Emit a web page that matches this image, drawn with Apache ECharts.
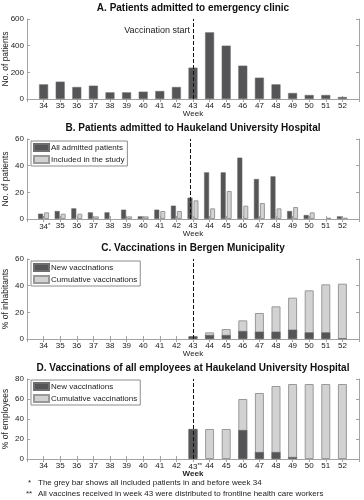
<!DOCTYPE html>
<html>
<head>
<meta charset="utf-8">
<script src="https://cdn.jsdelivr.net/npm/echarts@6/dist/echarts.min.js"></script>
<style>
html, body { margin: 0; padding: 0; background: #fff; }
#chart { width: 364px; height: 500px; }
</style>
</head>
<body>
<div id="chart"></div>
<script>
// weeks 34 - 52
var weeks = [34,35,36,37,38,39,40,41,42,43,44,45,46,47,48,49,50,51,52];

// A. emergency clinic
var emergency = [110,130,90,100,50,50,55,60,90,235,500,400,250,160,110,45,30,30,15];
// B. Haukeland University Hospital
var hospitalAll = [4,6,8,5,5,7,2,7,10,16,35,35,46,30,32,6,3,0,2];
var hospitalIncluded = [5,4,4,2,0,2,2,6,6,14,8,21,10,12,8,9,5,1,1];
// C. Bergen municipality (% of inhabitants)
var bergenNew = [0,0,0,0,0,0,0,0,0,2,3,3,6,5.5,5.5,7,5,5,0.5];
var bergenCum = [0,0,0,0,0,0,0,0,0,2,5,7.5,14,19.5,24.5,31,36.5,41,41.5];
// D. employees (% of employees)
var staffNew = [0,0,0,0,0,0,0,0,0,30,0,0,29,7,7,2,0,0,0];
var staffCum = [0,0,0,0,0,0,0,0,0,30,30,30,60,66,73,75,75,75,75];

var yMax = [600, 60, 60, 80];
var yStep = [200, 20, 20, 20];
var yNames = ['No. of patients', 'No. of patients', '% of inhabitants', '% of employees'];
var titles = [
	'A. Patients admitted to emergency clinic',
	'B. Patients admitted to Haukeland University Hospital',
	'C. Vaccinations in Bergen Municipality',
	'D. Vaccinations of all employees at Haukeland University Hospital'
];
var starLabels = [{}, {34: '*'}, {}, {43: '**'}];

var DARK = '#555557';
var LIGHT = '#d2d2d2';
var BOX = '#a3a3a3';
var TXT = '#222';

var tops = [19, 139, 259, 379];
var plotH = 80;

// [week, value] pairs, zeros draw nothing
function pairs(arr) {
	var out = [];
	for (var i = 0; i < arr.length; i++) {
		if (arr[i] !== 0) out.push([weeks[i], arr[i]]);
	}
	return out;
}

var grid = [], xAxis = [], yAxis = [], title = [], series = [], legend = [];

for (var g = 0; g < 4; g++) {
	grid.push({left: 27, width: 332, top: tops[g], height: plotH, outerBoundsMode: 'none', containLabel: false});
	title.push({
		text: titles[g], left: 193, top: tops[g] - 16, textAlign: 'center', padding: 0,
		textStyle: {fontSize: 10, fontWeight: 'bold', color: '#111', fontFamily: 'Liberation Sans'}
	});
	(function(star) {
		xAxis.push({
			type: 'value', gridIndex: g, min: weeks[0] - 1, max: weeks[weeks.length - 1] + 1, interval: 1,
			position: 'bottom', splitLine: {show: false},
			axisLine: {lineStyle: {color: BOX}},
			axisTick: {inside: true, length: 3, lineStyle: {color: BOX}},
			axisLabel: {
				fontSize: 8, color: TXT, margin: 3, fontFamily: 'Liberation Sans', showMinLabel: false, showMaxLabel: false,
				formatter: function(v) {
					if (v < weeks[0] || v > weeks[weeks.length - 1]) return '';
					if (star[v]) return '{h|' + star[v] + '}' + v + '{s|' + star[v] + '}';
					return '' + v;
				},
				rich: {
					h: {fontSize: 6, color: 'rgba(0,0,0,0)'},
					s: {fontSize: 6, color: TXT, padding: [0, 0, 3, 0], fontFamily: 'Liberation Sans'}
				}
			},
			name: 'Week', nameLocation: 'middle', nameGap: 11, nameMoveOverlap: false,
			nameTextStyle: {fontSize: 8, color: TXT, fontFamily: 'Liberation Sans', fontWeight: g == 3 ? 'bold' : 'normal'}
		});
	})(starLabels[g]);
	xAxis.push({
		type: 'value', gridIndex: g, min: weeks[0] - 1, max: weeks[weeks.length - 1] + 1, interval: 1,
		position: 'top', splitLine: {show: false},
		axisLine: {lineStyle: {color: BOX}},
		axisTick: {inside: true, length: 3, lineStyle: {color: BOX}},
		axisLabel: {show: false}
	});
	yAxis.push({
		type: 'value', gridIndex: g, min: 0, max: yMax[g], interval: yStep[g], position: 'left',
		axisLine: {show: true, lineStyle: {color: BOX}},
		axisTick: {show: true, inside: true, length: 3, lineStyle: {color: BOX}},
		axisLabel: {fontSize: 8, color: TXT, margin: 3, fontFamily: 'Liberation Sans'},
		splitLine: {show: false},
		name: yNames[g], nameLocation: 'middle', nameRotate: 90, nameGap: 17, nameMoveOverlap: false,
		nameTextStyle: {fontSize: 8.5, color: TXT, fontFamily: 'Liberation Sans'}
	});
	yAxis.push({
		type: 'value', gridIndex: g, min: 0, max: yMax[g], interval: yStep[g], position: 'right',
		axisLine: {show: true, lineStyle: {color: BOX}},
		axisTick: {show: true, inside: true, length: 3, lineStyle: {color: BOX}},
		axisLabel: {show: false},
		splitLine: {show: false}
	});
}

// dashed vaccination start line at week 43
function startLine() {
	return {
		silent: true, symbol: 'none', label: {show: false},
		lineStyle: {color: '#111', type: [4, 2], width: 1},
		data: [{xAxis: 43}]
	};
}

var darkStyle = {color: DARK, borderColor: '#6e6e70', borderWidth: 0.5};
var lightStyle = {color: LIGHT, borderColor: '#999', borderWidth: 1};

// A
series.push({
	type: 'bar', name: 'Emergency', xAxisIndex: 0, yAxisIndex: 0, barWidth: 9,
	data: pairs(emergency), itemStyle: darkStyle, markLine: startLine()
});
// B
series.push({
	type: 'bar', name: 'All admitted patients', xAxisIndex: 2, yAxisIndex: 2, barWidth: 5, barGap: '20%',
	data: pairs(hospitalAll), itemStyle: darkStyle, markLine: startLine()
});
series.push({
	type: 'bar', name: 'Included in the study', xAxisIndex: 2, yAxisIndex: 2, barWidth: 5, barGap: '20%',
	data: pairs(hospitalIncluded), itemStyle: lightStyle
});
// C
series.push({
	type: 'bar', name: 'Cumulative vaccinations', xAxisIndex: 4, yAxisIndex: 4, barWidth: 9, barGap: '-100%',
	data: pairs(bergenCum), itemStyle: lightStyle, markLine: startLine()
});
series.push({
	type: 'bar', name: 'New vaccinations', xAxisIndex: 4, yAxisIndex: 4, barWidth: 9, barGap: '-100%',
	data: pairs(bergenNew), itemStyle: darkStyle
});
// D
series.push({
	type: 'bar', name: 'Cumulative vaccinations', xAxisIndex: 6, yAxisIndex: 6, barWidth: 9, barGap: '-100%',
	data: pairs(staffCum), itemStyle: lightStyle, markLine: startLine()
});
series.push({
	type: 'bar', name: 'New vaccinations', xAxisIndex: 6, yAxisIndex: 6, barWidth: 9, barGap: '-100%',
	data: pairs(staffNew), itemStyle: darkStyle
});

function makeLegend(top, names) {
	return {
		left: 31, top: top, orient: 'vertical', data: names, selectedMode: false, icon: 'rect',
		itemWidth: 15, itemHeight: 7, itemGap: 3, padding: [2, 3, 2, 2],
		borderColor: '#8c8c8c', borderWidth: 1, backgroundColor: '#fff',
		textStyle: {fontSize: 8, color: TXT, fontFamily: 'Liberation Sans', padding: [0, 0, 0, -3]}
	};
}
legend.push(makeLegend(tops[1] + 2, ['All admitted patients', 'Included in the study']));
legend.push(makeLegend(tops[2] + 2, ['New vaccinations', 'Cumulative vaccinations']));
legend.push(makeLegend(tops[3] + 1, ['New vaccinations', 'Cumulative vaccinations']));

var noteStyle = {fontSize: 8, fill: TXT, fontFamily: 'Liberation Sans'};
var graphic = [
	{type: 'text', x: 190, y: 26, style: {text: 'Vaccination start', align: 'right', fontSize: 9, fill: TXT, fontFamily: 'Liberation Sans'}},
	{type: 'text', left: 28, top: 479, style: Object.assign({text: '*'}, noteStyle)},
	{type: 'text', left: 38, top: 479, style: Object.assign({text: 'The grey bar shows all included patients in and before week 34'}, noteStyle)},
	{type: 'text', left: 26, top: 490, style: Object.assign({text: '**'}, noteStyle)},
	{type: 'text', left: 38, top: 490, style: Object.assign({text: 'All vaccines received in week 43 were distributed to frontline health care workers'}, noteStyle)}
];

var myChart = echarts.init(document.getElementById('chart'));
myChart.setOption({
	animation: false,
	title: title,
	grid: grid,
	xAxis: xAxis,
	yAxis: yAxis,
	legend: legend,
	series: series,
	graphic: graphic
});
</script>
</body>
</html>
